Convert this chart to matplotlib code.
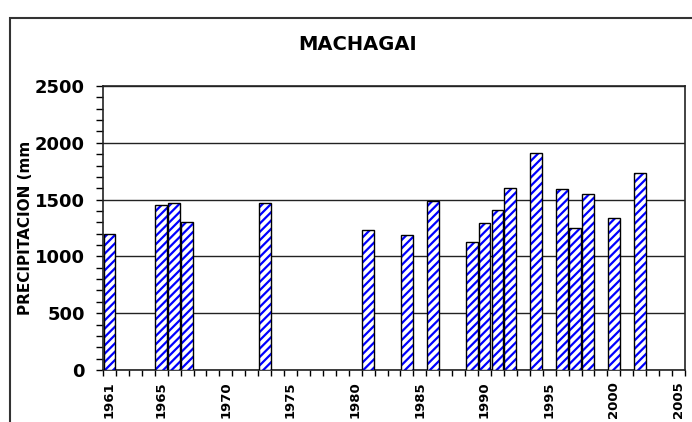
import numpy as np
import matplotlib
matplotlib.use("Agg")
import matplotlib.pyplot as plt
from matplotlib.patches import Rectangle
from matplotlib.transforms import Bbox

# precipitation data
years = [1961, 1965, 1966, 1967, 1973, 1981, 1984, 1986, 1989, 1990,
         1991, 1992, 1994, 1996, 1997, 1998, 2000, 2002]
precip = [1200, 1450, 1470, 1300, 1470, 1230, 1190, 1490, 1130, 1290,
          1410, 1600, 1910, 1590, 1250, 1545, 1340, 1735]
first_year, last_year = 1961, 2005
label_years = [1961, 1965, 1970, 1975, 1980, 1985, 1990, 1995, 2000, 2005]

title = "MACHAGAI"
ylabel = "PRECIPITACION (mm)"

W, H = 692, 422
fig = plt.figure(figsize=(W / 100, H / 100), dpi=100)
fig.patch.set_facecolor("white")

# outer chart frame (cut off at right/bottom like the reference)
fig.patches.append(Rectangle((10 / W, -0.1), 1.2, (H - 18) / H + 0.1,
                             transform=fig.transFigure, fill=False,
                             edgecolor="#333333", linewidth=1.5))

ax = fig.add_axes([103 / W, (H - 370) / H, 582 / W, (370 - 86) / H])

x = np.array([y - first_year for y in years])
plt.rcParams["hatch.linewidth"] = 1.6
ax.bar(x, precip, width=0.92, color="white", edgecolor="#0000ff",
       hatch="////", linewidth=0, zorder=3)
ax.bar(x, precip, width=0.92, fill=False, edgecolor="black",
       linewidth=1.0, zorder=4)

ax.set_xlim(-0.5, last_year - first_year + 0.5)
ax.set_ylim(0, 2500)

ax.set_yticks(np.arange(0, 2501, 500))
ax.set_yticks(np.arange(0, 2501, 100), minor=True)
ax.yaxis.grid(True, which="major", color="#222222", linewidth=1.0, zorder=1)
ax.tick_params(axis="y", which="both", direction="out", length=5, width=1,
               pad=8, labelsize=13)
for lab in ax.get_yticklabels():
    lab.set_fontweight("bold")

ax.set_xticks([y - first_year for y in label_years])
ax.set_xticklabels([str(y) for y in label_years], rotation=90,
                   fontweight="bold", fontsize=9.5)
ax.set_xticks(np.arange(-0.5, last_year - first_year + 1), minor=True)
ax.tick_params(axis="x", which="major", length=0, pad=8)
ax.tick_params(axis="x", which="minor", direction="out", length=4, width=1)

for s in ax.spines.values():
    s.set_linewidth(1.2)
    s.set_color("#222222")

fig.text(358 / W, 1 - 45 / H, title, ha="center", va="center",
         fontsize=14, fontweight="bold")

yl = fig.text(26 / W, 1 - 315 / H, ylabel, rotation=90, ha="center",
              va="bottom", fontsize=11, fontweight="bold")
yl.set_clip_box(Bbox([[0, 0], [W, H - 142]]))
yl.set_clip_on(True)

fig.savefig("out.png", dpi=100, facecolor="white")
